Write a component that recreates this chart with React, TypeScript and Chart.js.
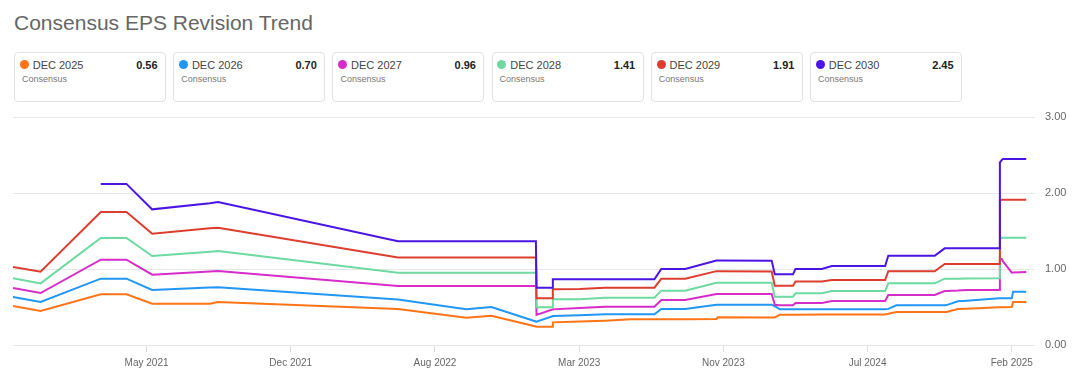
import React, { useEffect, useRef } from "react";
import { Chart, registerables } from "chart.js";

Chart.register(...registerables);

// ---- data ----
const dates = [
  "2020-10-08", "2020-11-21", "2021-02-25", "2021-04-07", "2021-05-18", "2021-08-18", "2021-08-31",
  "2022-06-14", "2022-10-01", "2022-11-10", "2023-01-20", "2023-01-21", "2023-02-15", "2023-02-16",
  "2023-03-31", "2023-05-10", "2023-06-21", "2023-07-28", "2023-08-08", "2023-09-15", "2023-11-04",
  "2023-11-06", "2024-01-31", "2024-02-05", "2024-02-13", "2024-03-05", "2024-03-09", "2024-04-20",
  "2024-05-06", "2024-07-30", "2024-08-04", "2024-08-17", "2024-10-17", "2024-11-02", "2024-11-05",
  "2024-11-23", "2024-12-07", "2025-01-28", "2025-01-29", "2025-02-01", "2025-02-03", "2025-02-17",
  "2025-02-19", "2025-03-12",
];

const dec2025 = [0.513, 0.447, 0.667, 0.667, 0.544, 0.544, 0.566, 0.474, 0.36, 0.386, 0.244, 0.241, 0.241, 0.298, 0.31, 0.32, 0.338, 0.338, 0.338, 0.34, 0.342, 0.364, 0.362, 0.362, 0.399, 0.399, 0.399, 0.40, 0.40, 0.402, 0.41, 0.434, 0.434, 0.434, 0.434, 0.474, 0.478, 0.497, 0.497, 0.498, 0.498, 0.50, 0.566, 0.566];
const dec2026 = [0.632, 0.566, 0.873, 0.873, 0.724, 0.755, 0.759, 0.60, 0.469, 0.50, 0.31, 0.307, 0.379, 0.382, 0.39, 0.404, 0.404, 0.404, 0.474, 0.474, 0.53, 0.53, 0.53, 0.51, 0.469, 0.472, 0.472, 0.472, 0.472, 0.469, 0.475, 0.522, 0.522, 0.522, 0.525, 0.575, 0.583, 0.614, 0.614, 0.614, 0.614, 0.614, 0.70, 0.70];
const dec2027 = [0.75, 0.684, 1.123, 1.123, 0.925, 0.968, 0.974, 0.776, 0.776, 0.776, 0.776, 0.395, 0.466, 0.469, 0.487, 0.504, 0.504, 0.504, 0.592, 0.592, 0.671, 0.671, 0.671, 0.53, 0.522, 0.522, 0.553, 0.553, 0.579, 0.579, 0.658, 0.658, 0.658, 0.711, 0.711, 0.716, 0.724, 0.724, 1.13, 1.13, 1.10, 0.952, 0.955, 0.96];
const dec2028 = [0.877, 0.811, 1.408, 1.408, 1.171, 1.228, 1.237, 0.952, 0.952, 0.952, 0.952, 0.496, 0.496, 0.601, 0.601, 0.623, 0.623, 0.623, 0.715, 0.715, 0.82, 0.82, 0.82, 0.636, 0.636, 0.636, 0.68, 0.68, 0.711, 0.711, 0.811, 0.811, 0.811, 0.873, 0.873, 0.873, 0.875, 0.877, 1.40, 1.41, 1.41, 1.41, 1.41, 1.41];
const dec2029 = [1.026, 0.965, 1.75, 1.75, 1.465, 1.535, 1.544, 1.152, 1.152, 1.152, 1.152, 0.614, 0.614, 0.735, 0.737, 0.754, 0.754, 0.754, 0.873, 0.873, 0.972, 0.972, 0.968, 0.778, 0.778, 0.778, 0.835, 0.835, 0.855, 0.855, 0.97, 0.97, 0.97, 1.066, 1.066, 1.066, 1.066, 1.066, 1.90, 1.912, 1.912, 1.912, 1.91, 1.91];
const dec2030 = [null, null, 2.12, 2.12, 1.785, 1.865, 1.882, 1.365, 1.365, 1.365, 1.365, 0.754, 0.754, 0.864, 0.864, 0.864, 0.864, 0.864, 1.0, 1.0, 1.112, 1.112, 1.11, 0.93, 0.93, 0.93, 1.0, 1.0, 1.04, 1.04, 1.175, 1.175, 1.175, 1.272, 1.272, 1.272, 1.272, 1.272, 2.40, 2.435, 2.447, 2.447, 2.447, 2.447];

const seriesNames = ["DEC 2025", "DEC 2026", "DEC 2027", "DEC 2028", "DEC 2029", "DEC 2030"];
const seriesValues = [dec2025, dec2026, dec2027, dec2028, dec2029, dec2030];
const seriesColors = ["#FF7417", "#2196F3", "#D62CC9", "#6ED9A0", "#DC3D2F", "#4A14E2"];
const latestValues = ["0.56", "0.70", "0.96", "1.41", "1.91", "2.45"];
const cardSubtitle = "Consensus";
const titleText = "Consensus EPS Revision Trend";

const xAxisStart = "2020-10-08";
const xAxisEnd = "2025-03-26";
const xTickDates = ["2021-05-09", "2021-12-25", "2022-08-12", "2023-03-30", "2023-11-15", "2024-07-02", "2025-02-17"];
const xTickLabels = ["May 2021", "Dec 2021", "Aug 2022", "Mar 2023", "Nov 2023", "Jul 2024", "Feb 2025"];
const yTickValues = [0, 1, 2, 3];
const yTickLabels = ["0.00", "1.00", "2.00", "3.00"];

const FONT = "'Liberation Sans', Arial, Helvetica, sans-serif";
const toDay = (s: string) => Date.parse(s + "T00:00:00Z") / 86400000;

function LegendCard({ i }: { i: number }) {
  return (
    <div
      style={{
        position: "absolute",
        left: 14 + i * 159.2,
        top: 52,
        width: 152,
        height: 50,
        boxSizing: "border-box",
        border: "1px solid #e2e2e2",
        borderRadius: 4,
        background: "#fff",
      }}
    >
      <div
        style={{
          position: "absolute",
          left: 4.8,
          top: 6.8,
          width: 9,
          height: 9,
          borderRadius: "50%",
          background: seriesColors[i],
        }}
      />
      <div
        style={{
          position: "absolute",
          left: 17.7,
          top: 4.6,
          fontSize: 11,
          lineHeight: "14px",
          color: "#444",
          whiteSpace: "nowrap",
        }}
      >
        {seriesNames[i]}
      </div>
      <div
        style={{
          position: "absolute",
          right: 7.4,
          top: 4.6,
          fontSize: 11,
          lineHeight: "14px",
          fontWeight: "bold",
          color: "#222",
        }}
      >
        {latestValues[i]}
      </div>
      <div
        style={{
          position: "absolute",
          left: 7,
          top: 20,
          fontSize: 9,
          lineHeight: "12px",
          color: "#777",
        }}
      >
        {cardSubtitle}
      </div>
    </div>
  );
}

export default function App() {
  const canvasRef = useRef<HTMLCanvasElement | null>(null);

  useEffect(() => {
    if (!canvasRef.current) return;
    const xs = dates.map(toDay);
    const chart = new Chart(canvasRef.current, {
      type: "line",
      data: {
        datasets: seriesValues.map((vals, i) => ({
          label: seriesNames[i],
          data: xs.map((x, j) => ({ x, y: vals[j] })),
          borderColor: seriesColors[i],
          backgroundColor: seriesColors[i],
          borderWidth: 2,
          pointRadius: 0,
          pointHoverRadius: 0,
          tension: 0,
          fill: false,
          spanGaps: false,
          order: seriesValues.length - 1 - i,
        })),
      },
      options: {
        animation: false,
        responsive: false,
        maintainAspectRatio: false,
        events: [],
        layout: { padding: { left: 13, right: 0, top: 12, bottom: 0 } },
        plugins: {
          legend: { display: false },
          tooltip: { enabled: false },
          title: { display: false },
        },
        scales: {
          x: {
            type: "linear",
            min: toDay(xAxisStart),
            max: toDay(xAxisEnd),
            afterBuildTicks: (axis: any) => {
              axis.ticks = xTickDates.map((d) => ({ value: toDay(d) }));
            },
            afterFit: (axis: any) => {
              axis.height = 34;
              axis.paddingLeft = 0;
              axis.paddingRight = 0;
            },
            ticks: {
              autoSkip: false,
              maxRotation: 0,
              minRotation: 0,
              padding: 5,
              color: "#666",
              font: { family: FONT, size: 10 },
              callback: (_v: any, idx: number) => xTickLabels[idx],
            },
            grid: {
              drawOnChartArea: false,
              drawTicks: true,
              tickLength: 7,
              color: "#dddddd",
            },
            border: { display: false },
          },
          y: {
            position: "right",
            min: 0,
            max: 3,
            afterBuildTicks: (axis: any) => {
              axis.ticks = yTickValues.map((v) => ({ value: v }));
            },
            afterFit: (axis: any) => {
              axis.width = 45;
              axis.paddingTop = 0;
              axis.paddingBottom = 0;
            },
            ticks: {
              padding: 10,
              color: "#666",
              font: { family: FONT, size: 11 },
              callback: (_v: any, idx: number) => yTickLabels[idx],
            },
            grid: { color: "#e6e6e6", drawTicks: false, lineWidth: 1 },
            border: { display: false },
          },
        },
      } as any,
    });
    return () => chart.destroy();
  }, []);

  return (
    <div
      style={{
        position: "absolute",
        left: 0,
        top: 0,
        width: 1080,
        height: 379,
        background: "#fff",
        fontFamily: FONT,
        overflow: "hidden",
      }}
    >
      <div
        style={{
          position: "absolute",
          left: 14,
          top: 11,
          fontSize: 21,
          lineHeight: "24px",
          color: "#666",
          whiteSpace: "nowrap",
        }}
      >
        {titleText}
      </div>
      {seriesNames.map((_, i) => (
        <LegendCard key={i} i={i} />
      ))}
      <canvas
        ref={canvasRef}
        width={1080}
        height={274}
        style={{ position: "absolute", left: 0, top: 105, width: 1080, height: 274 }}
      />
    </div>
  );
}
